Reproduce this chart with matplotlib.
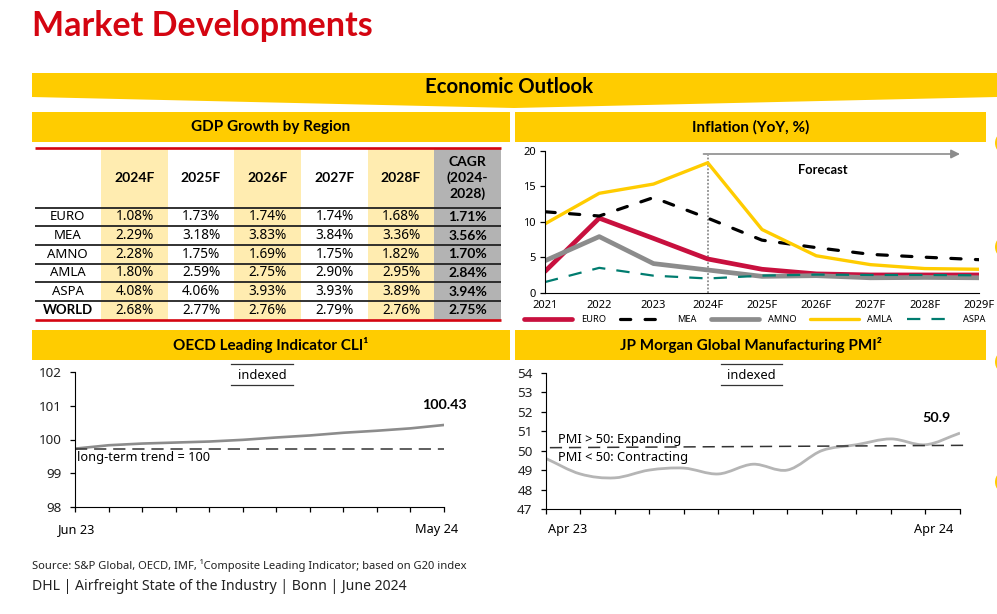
import numpy as np
import matplotlib
matplotlib.use('Agg')
import matplotlib.pyplot as plt
from matplotlib.patches import Polygon, Rectangle, Circle, PathPatch
from matplotlib.path import Path

plt.rcParams['font.family'] = ['Noto Sans', 'DejaVu Sans']
BOLD = ['Lato', 'DejaVu Sans']

# table data
gdp_years = ['2024F', '2025F', '2026F', '2027F', '2028F', 'CAGR\n(2024-\n2028)']
gdp_regions = ['EURO', 'MEA', 'AMNO', 'AMLA', 'ASPA', 'WORLD']
gdp_values = [
    ['1.08%', '1.73%', '1.74%', '1.74%', '1.68%', '1.71%'],
    ['2.29%', '3.18%', '3.83%', '3.84%', '3.36%', '3.56%'],
    ['2.28%', '1.75%', '1.69%', '1.75%', '1.82%', '1.70%'],
    ['1.80%', '2.59%', '2.75%', '2.90%', '2.95%', '2.84%'],
    ['4.08%', '4.06%', '3.93%', '3.93%', '3.89%', '3.94%'],
    ['2.68%', '2.77%', '2.76%', '2.79%', '2.76%', '2.75%'],
]

# inflation data
infl_years = ['2021', '2022', '2023', '2024F', '2025F', '2026F', '2027F', '2028F', '2029F']
euro = [3.0, 10.5, 7.65, 4.75, 3.3, 2.65, 2.5, 2.5, 2.5]
mea = [11.4, 10.8, 13.4, 10.5, 7.4, 6.35, 5.4, 5.0, 4.65]
amno = [4.5, 7.9, 4.1, 3.2, 2.3, 2.4, 2.1, 2.15, 2.1]
amla = [9.7, 14.0, 15.3, 18.3, 8.9, 5.2, 3.95, 3.4, 3.3]
aspa = [1.5, 3.5, 2.4, 2.0, 2.4, 2.55, 2.5, 2.5, 2.45]

# indicator data
cli = [99.73, 99.83, 99.88, 99.91, 99.94, 99.99, 100.06, 100.12, 100.2, 100.26, 100.33, 100.43]
cli_trend = [99.71, 99.71]
pmi = [49.6, 48.8, 48.6, 49.0, 49.1, 48.8, 49.3, 49.0, 50.0, 50.3, 50.6, 50.3, 50.9]
pmi_line = [50.15, 50.27]

YELLOW = '#FFCC00'
RED = '#D40511'
W, H = 997, 614

fig = plt.figure(figsize=(W / 100, H / 100), dpi=100)

# overlay in pixel coordinates for the page furniture
bg = fig.add_axes([0, 0, 1, 1], zorder=0)
bg.set_xlim(0, W)
bg.set_ylim(H, 0)
bg.axis('off')


def axes_px(left, top, right, bottom):
    return fig.add_axes([left / W, 1 - bottom / H, (right - left) / W, (bottom - top) / H],
                        zorder=1, facecolor='none')


def bold_text(x, y, s, size, **kw):
    bg.text(x, y, s, fontsize=size, fontweight='bold', family=BOLD, va='center', **kw)


def banner(x0, x1, y0, y1, label, size=11):
    bg.add_patch(Rectangle((x0, y0), x1 - x0, y1 - y0, color=YELLOW, lw=0))
    bold_text((x0 + x1) / 2, (y0 + y1) / 2, label, size, ha='center', color='black')


# title and top banner
bold_text(32, 26, 'Market Developments', 24.5, color=RED)
bg.add_patch(Polygon([(32, 73), (997, 73), (997, 97), (514, 108), (32, 97)], color=YELLOW, lw=0))
bold_text(509, 87, 'Economic Outlook', 14.7, ha='center')

banner(32, 510, 112, 142, 'GDP Growth by Region')
banner(515, 986, 112, 142, 'Inflation (YoY, %)')
banner(32, 510, 330, 360, 'OECD Leading Indicator CLI¹')
banner(515, 986, 330, 360, 'JP Morgan Global Manufacturing PMI²')

# half hidden circles on the right edge
for cy in [143, 247, 362, 482]:
    bg.add_patch(Circle((1007, cy), 12, color=YELLOW, lw=0))

# GDP table
col_x = [34.5, 101, 168, 234, 301, 368, 434, 501]
row_y = [207.7, 226.3, 245, 263.7, 282.3, 301, 319.7]
for i in range(6):
    if i == 5:
        fc = '#B3B3B3'
    elif i % 2 == 0:
        fc = '#FFECB0'
    else:
        fc = 'white'
    bg.add_patch(Rectangle((col_x[i + 1], 148), col_x[i + 2] - col_x[i + 1], 172, color=fc, lw=0))
    bold_text((col_x[i + 1] + col_x[i + 2]) / 2, 178, gdp_years[i], 10, ha='center', linespacing=1.28)
for r, region in enumerate(gdp_regions):
    yc = (row_y[r] + row_y[r + 1]) / 2
    if region == 'WORLD':
        bold_text((col_x[0] + col_x[1]) / 2, yc, region, 9.5, ha='center')
    else:
        bg.text((col_x[0] + col_x[1]) / 2, yc, region, ha='center', va='center', fontsize=9.5)
    for c, val in enumerate(gdp_values[r]):
        xc = (col_x[c + 1] + col_x[c + 2]) / 2
        if c == 5:
            bold_text(xc, yc, val, 10, ha='center')
        else:
            bg.text(xc, yc, val, ha='center', va='center', fontsize=9.8)
for y in row_y[:-1]:
    bg.plot([col_x[0], col_x[-1]], [y, y], color='#222222', lw=1.3, solid_capstyle='butt')
for y in [147.7, 319.7]:
    bg.plot([col_x[0], col_x[-1]], [y, y], color=RED, lw=1.9, solid_capstyle='butt')

# inflation chart
ax = axes_px(545, 150.7, 979, 292.7)
x = np.arange(len(infl_years))
ax.plot(x, euro, color='#C8103E', lw=3.4, label='EURO', solid_capstyle='round')
ax.plot(x, mea, color='black', lw=2.3, ls=(0, (3.2, 4.5)), dash_capstyle='round', label='MEA')
ax.plot(x, amno, color='#8C8C8C', lw=3.4, label='AMNO', solid_capstyle='round')
ax.plot(x, amla, color=YELLOW, lw=2.4, label='AMLA', solid_capstyle='round')
ax.plot(x, aspa, color='#007C6F', lw=1.6, ls=(0, (6, 5)), label='ASPA')
ax.axvline(3, ymin=0, ymax=0.97, color='#8C8C8C', lw=1.3, ls=(0, (1, 1)), zorder=1)
ax.set_xlim(0, 8)
ax.set_ylim(0, 20)
ax.set_yticks([0, 5, 10, 15, 20])
ax.set_xticks(x)
ax.set_xticklabels(infl_years)
ax.tick_params(axis='y', length=3.5, width=0.9, labelsize=8, pad=3)
ax.tick_params(axis='x', length=0, labelsize=8, pad=5)
ax.spines['top'].set_visible(False)
ax.spines['right'].set_visible(False)
ax.annotate('', xy=(960, 154), xytext=(703.5, 154), xycoords=bg.transData, textcoords=bg.transData,
            arrowprops=dict(arrowstyle='-|>', color='#8C8C8C', lw=1.2, mutation_scale=13,
                            shrinkA=0, shrinkB=0))
bold_text(823, 169.5, 'Forecast', 9.3, ha='center')
ax.legend(loc='center left', bbox_to_anchor=((527 - 545 - 3) / 434, (292.7 - 319.5) / 142), ncol=5,
          frameon=False, fontsize=6.7, handlelength=5.2, handletextpad=0.9, columnspacing=1.55,
          borderpad=0, borderaxespad=0)

# OECD chart
ax2 = axes_px(75.3, 372, 444, 507)
ax2.plot(np.arange(len(cli)), cli, color='#8C8C8C', lw=1.9)
ax2.plot([0, len(cli) - 1], cli_trend, color='#333333', lw=1.1, ls=(0, (8, 4.5)))
ax2.set_xlim(0, len(cli) - 1)
ax2.set_ylim(98, 102)
ax2.set_yticks([98, 99, 100, 101, 102])
ax2.set_xticks(np.arange(len(cli)))
ax2.set_xticklabels([])

# PMI chart, the line is smoothed between the monthly readings
ax3 = axes_px(545.7, 372.7, 960, 509)
px = np.arange(len(pmi), dtype=float)
py = np.array(pmi)
dy = np.gradient(py)
verts = [(px[0], py[0])]
codes = [Path.MOVETO]
for i in range(len(pmi) - 1):
    verts += [(px[i] + 1 / 3, py[i] + dy[i] / 3), (px[i + 1] - 1 / 3, py[i + 1] - dy[i + 1] / 3), (px[i + 1], py[i + 1])]
    codes += [Path.CURVE4, Path.CURVE4, Path.CURVE4]
ax3.add_patch(PathPatch(Path(verts, codes), fc='none', ec='#B5B5B5', lw=2.0))
ax3.plot([0.12, 12.18], pmi_line, color='#333333', lw=1.1, ls=(0, (8, 4.5)), clip_on=False)
ax3.set_xlim(0, len(pmi) - 1)
ax3.set_ylim(47, 54)
ax3.set_yticks(np.arange(47, 55))
ax3.set_xticks(px)
ax3.set_xticklabels([])

for a in [ax2, ax3]:
    a.spines['top'].set_visible(False)
    a.spines['right'].set_visible(False)
    a.tick_params(axis='y', length=3.5, width=0.9, labelsize=9.7, pad=6, labelcolor='#222222')
    a.tick_params(axis='x', length=3.5, width=0.9)

# indexed labels
for x0, x1 in [(231, 293), (720.7, 782)]:
    for y in [364, 385]:
        bg.plot([x0, x1], [y, y], color='#333333', lw=0.9)
    bg.text((x0 + x1) / 2, 375.5, 'indexed', ha='center', va='center', fontsize=9.2)

bg.text(77, 458, 'long-term trend = 100', va='center', fontsize=9.2)
bold_text(444, 405, '100.43', 10.3, ha='center')
bold_text(936, 418, '50.9', 10.3, ha='center')
bg.text(558, 440, 'PMI > 50: Expanding', va='center', fontsize=9.2)
bg.text(558, 458, 'PMI < 50: Contracting', va='center', fontsize=9.2)
bg.text(77, 529.5, 'Jun 23', ha='center', va='center', fontsize=9.2)
bg.text(437, 529.5, 'May 24', ha='center', va='center', fontsize=9.2)
bg.text(568, 529.5, 'Apr 23', ha='center', va='center', fontsize=9.2)
bg.text(934, 529.5, 'Apr 24', ha='center', va='center', fontsize=9.2)

# footer
bg.text(32, 566, 'Source: S&P Global, OECD, IMF, ¹Composite Leading Indicator; based on G20 index',
        va='center', fontsize=8.05, color='#222222')
bg.text(32, 587, 'DHL | Airfreight State of the Industry | Bonn | June 2024', va='center',
        fontsize=10.1, color='#222222')

fig.savefig('out.png', dpi=100)
